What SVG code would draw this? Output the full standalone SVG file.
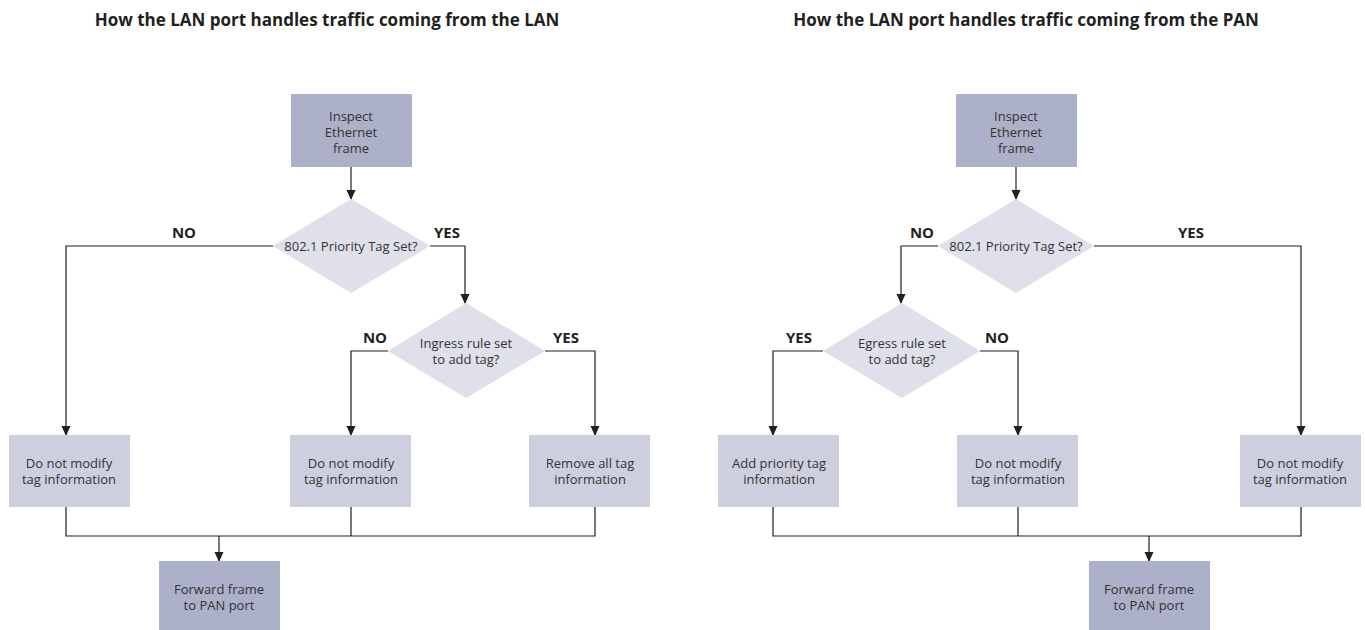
<svg xmlns="http://www.w3.org/2000/svg" width="1365" height="630" viewBox="0 0 1365 630">
<defs>
<marker id="ah" markerWidth="10" markerHeight="10" refX="9" refY="5" orient="auto" markerUnits="userSpaceOnUse">
<path d="M0,0.5 L10,5 L0,9.5 Z" fill="#231f20"/>
</marker>
<style>
.dark{fill:#adb0c9}
.light{fill:#cdcfdf}
.dia{fill:#dfe0ea}
.t{font-family:"Open Sans","Liberation Sans",sans-serif;font-size:13px;fill:#333;text-anchor:middle}
.lbl{font-family:"Open Sans","Liberation Sans",sans-serif;font-size:15px;font-weight:bold;fill:#231f20;text-anchor:middle}
.title{font-family:"Open Sans","Liberation Sans",sans-serif;font-size:17px;font-weight:bold;fill:#231f20;text-anchor:middle}
.c{fill:none;stroke:#231f20;stroke-width:1.2}
.ca{fill:none;stroke:#231f20;stroke-width:1.2;marker-end:url(#ah)}
</style>
</defs>
<rect width="1365" height="630" fill="#fff"/>
<text class="title" x="327" y="26">How the LAN port handles traffic coming from the LAN</text>
<text class="title" x="1026" y="26">How the LAN port handles traffic coming from the PAN</text>

<g id="connectors">
<!-- left -->
<path class="ca" d="M351,167 V199"/>
<path class="ca" d="M273,246 H66 V435"/>
<path class="ca" d="M430,246 H465 V303"/>
<path class="ca" d="M388,351 H351 V435"/>
<path class="ca" d="M545,351 H595 V435"/>
<path class="c" d="M66,507 V536 H595 V507 M351,507 V536"/>
<path class="ca" d="M219,536 V561"/>
<!-- right -->
<path class="ca" d="M1016,167 V199"/>
<path class="ca" d="M938,246 H901 V303"/>
<path class="ca" d="M1094,246 H1301 V435"/>
<path class="ca" d="M823,351 H773 V435"/>
<path class="ca" d="M980,351 H1018 V435"/>
<path class="c" d="M773,507 V536 H1301 V507 M1018,507 V536"/>
<path class="ca" d="M1149,536 V561"/>
</g>

<g id="labels">
<text class="lbl" x="184" y="238">NO</text>
<text class="lbl" x="447" y="238">YES</text>
<text class="lbl" x="375" y="343">NO</text>
<text class="lbl" x="566" y="343">YES</text>
<text class="lbl" x="922" y="238">NO</text>
<text class="lbl" x="1191" y="238">YES</text>
<text class="lbl" x="799" y="343">YES</text>
<text class="lbl" x="997" y="343">NO</text>
</g>

<g id="L-inspect"><rect class="dark" x="291" y="94" width="121" height="73"/>
<text class="t" x="351" y="121">Inspect</text><text class="t" x="351" y="137">Ethernet</text><text class="t" x="351" y="153">frame</text></g>
<g id="L-d1"><polygon class="dia" points="351,199 430,246 351,293 273,246"/>
<text class="t" x="351" y="251">802.1 Priority Tag Set?</text></g>
<g id="L-d2"><polygon class="dia" points="466,303 545,351 466,398 388,351"/>
<text class="t" x="466" y="348">Ingress rule set</text><text class="t" x="466" y="364">to add tag?</text></g>
<g id="L-b1"><rect class="light" x="9" y="435" width="121" height="72"/>
<text class="t" x="69" y="468">Do not modify</text><text class="t" x="69" y="484">tag information</text></g>
<g id="L-b2"><rect class="light" x="290" y="435" width="121" height="72"/>
<text class="t" x="351" y="468">Do not modify</text><text class="t" x="351" y="484">tag information</text></g>
<g id="L-b3"><rect class="light" x="529" y="435" width="121" height="72"/>
<text class="t" x="590" y="468">Remove all tag</text><text class="t" x="590" y="484">information</text></g>
<g id="L-fwd"><rect class="dark" x="159" y="561" width="121" height="70"/>
<text class="t" x="219" y="594">Forward frame</text><text class="t" x="219" y="610">to PAN port</text></g>

<g id="R-inspect"><rect class="dark" x="956" y="94" width="121" height="73"/>
<text class="t" x="1016" y="121">Inspect</text><text class="t" x="1016" y="137">Ethernet</text><text class="t" x="1016" y="153">frame</text></g>
<g id="R-d1"><polygon class="dia" points="1016,199 1094,246 1016,293 938,246"/>
<text class="t" x="1016" y="251">802.1 Priority Tag Set?</text></g>
<g id="R-d2"><polygon class="dia" points="902,303 980,351 902,398 823,351"/>
<text class="t" x="902" y="348">Egress rule set</text><text class="t" x="902" y="364">to add tag?</text></g>
<g id="R-b1"><rect class="light" x="718" y="435" width="121" height="72"/>
<text class="t" x="779" y="468">Add priority tag</text><text class="t" x="779" y="484">information</text></g>
<g id="R-b2"><rect class="light" x="957" y="435" width="121" height="72"/>
<text class="t" x="1018" y="468">Do not modify</text><text class="t" x="1018" y="484">tag information</text></g>
<g id="R-b3"><rect class="light" x="1240" y="435" width="121" height="72"/>
<text class="t" x="1300" y="468">Do not modify</text><text class="t" x="1300" y="484">tag information</text></g>
<g id="R-fwd"><rect class="dark" x="1089" y="561" width="121" height="70"/>
<text class="t" x="1149" y="594">Forward frame</text><text class="t" x="1149" y="610">to PAN port</text></g>
</svg>
